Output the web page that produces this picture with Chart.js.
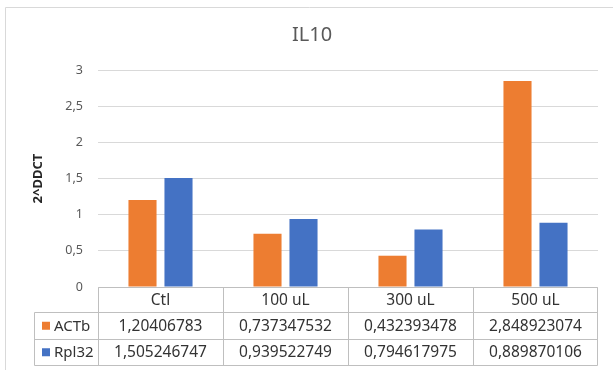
<!DOCTYPE html>
<html>
<head>
<meta charset="utf-8">
<title>IL10</title>
<script src="https://cdn.jsdelivr.net/npm/chart.js@4/dist/chart.umd.min.js"></script>
<style>
  html, body { margin: 0; padding: 0; background: #ffffff; }
  canvas { display: block; }
</style>
</head>
<body>
<canvas id="chart" width="613" height="370"></canvas>
<script>
// Sample groups and the two reference-gene normalisations of IL10 expression
const categories = ['Ctl', '100 uL', '300 uL', '500 uL'];
const actbValues = [1.20406783, 0.737347532, 0.432393478, 2.848923074];
const rpl32Values = [1.505246747, 0.939522749, 0.794617975, 0.889870106];
const seriesNames = ['ACTb', 'Rpl32'];
const yTicks = [0, 0.5, 1, 1.5, 2, 2.5, 3];

const FONT = '"Noto Sans", "DejaVu Sans", sans-serif';
const ORANGE = '#ED7D31';
const BLUE = '#4472C4';
const TEXT_GREY = '#595959';
const TABLE_TEXT = '#333333';
const TABLE_LINE = '#BFBFBF';

const decimalComma = v => String(v).replace('.', ',');

// Frame, title and the data table under the plot (Excel style)
const tablePlugin = {
  id: 'dataTable',
  afterDraw(chart) {
    const ctx = chart.ctx;
    const area = chart.chartArea;
    const xs = chart.scales.x;
    const n = categories.length;
    const colW = (area.right - area.left) / n;
    const top = area.bottom;
    const rowH = [25, 26.5, 26.5];
    const rowY = [top, top + rowH[0], top + rowH[0] + rowH[1], top + rowH[0] + rowH[1] + rowH[2]];
    const labelLeft = 34.5;

    ctx.save();

    // outer chart frame
    ctx.strokeStyle = '#D9D9D9';
    ctx.lineWidth = 1;
    ctx.beginPath();
    ctx.moveTo(5.5, 400);
    ctx.lineTo(5.5, 7.5);
    ctx.lineTo(640, 7.5);
    ctx.stroke();

    // chart title
    ctx.fillStyle = TEXT_GREY;
    ctx.font = '20px ' + FONT;
    ctx.textAlign = 'center';
    ctx.textBaseline = 'middle';
    ctx.fillText('IL10', 312, 35);

    // table grid
    ctx.strokeStyle = TABLE_LINE;
    ctx.beginPath();
    const L = Math.round(area.left) + 0.5;
    const R = Math.round(area.right) - 0.5;
    ctx.moveTo(L, Math.round(rowY[0]) + 0.5);
    ctx.lineTo(R, Math.round(rowY[0]) + 0.5);
    for (let r = 1; r < rowY.length; r++) {
      const y = Math.round(rowY[r]) + 0.5;
      ctx.moveTo(labelLeft, y);
      ctx.lineTo(R, y);
    }
    for (let c = 0; c <= n; c++) {
      const x = c === n ? R : Math.round(area.left + c * colW) + 0.5;
      ctx.moveTo(x, Math.round(rowY[0]) + 0.5);
      ctx.lineTo(x, Math.round(rowY[3]) + 0.5);
    }
    ctx.moveTo(labelLeft, Math.round(rowY[1]) + 0.5);
    ctx.lineTo(labelLeft, Math.round(rowY[3]) + 0.5);
    ctx.stroke();

    // header row: category names
    ctx.fillStyle = TABLE_TEXT;
    ctx.font = '15.5px ' + FONT;
    ctx.textAlign = 'center';
    ctx.textBaseline = 'middle';
    categories.forEach((c, i) => {
      ctx.fillText(c, xs.getPixelForValue(i), (rowY[0] + rowY[1]) / 2 + 1);
    });

    // series rows: legend key, name, values
    const rows = [actbValues, rpl32Values];
    const colors = [ORANGE, BLUE];
    rows.forEach((vals, r) => {
      const cy = (rowY[r + 1] + rowY[r + 2]) / 2 + 1;
      ctx.fillStyle = colors[r];
      ctx.fillRect(42, cy - 4.5, 8, 8);
      ctx.fillStyle = TABLE_TEXT;
      ctx.textAlign = 'left';
      ctx.font = '15px ' + FONT;
      ctx.fillText(seriesNames[r], 54, cy);
      ctx.textAlign = 'center';
      ctx.font = '15.5px ' + FONT;
      vals.forEach((v, i) => {
        ctx.fillText(decimalComma(v), xs.getPixelForValue(i), cy);
      });
    });

    ctx.restore();
  }
};

new Chart(document.getElementById('chart'), {
  type: 'bar',
  data: {
    labels: categories,
    datasets: [
      { label: seriesNames[0], data: actbValues, backgroundColor: ORANGE },
      { label: seriesNames[1], data: rpl32Values, backgroundColor: BLUE }
    ]
  },
  options: {
    responsive: false,
    animation: false,
    devicePixelRatio: 1,
    categoryPercentage: 0.576,
    barPercentage: 0.78,
    layout: { padding: { left: 0, top: 70, right: 15, bottom: 0 } },
    plugins: {
      legend: { display: false },
      title: { display: false },
      tooltip: { enabled: false }
    },
    scales: {
      x: {
        grid: { display: false },
        border: { display: false },
        ticks: { display: false },
        afterFit(scale) { scale.height = 83; }
      },
      y: {
        min: 0,
        max: 3,
        afterBuildTicks(scale) { scale.ticks = yTicks.map(v => ({ value: v })); },
        ticks: {
          padding: 15,
          color: TEXT_GREY,
          font: { family: FONT, size: 12.5 },
          callback: v => decimalComma(v)
        },
        grid: { color: '#D9D9D9', drawTicks: false },
        border: { display: false },
        title: {
          display: true,
          text: '2^DDCT',
          color: '#262626',
          font: { family: FONT, size: 13, weight: 'bold' },
          padding: { top: 30, bottom: 0 }
        },
        afterFit(scale) { scale.width = 98; }
      }
    }
  },
  plugins: [tablePlugin]
});
</script>
</body>
</html>
